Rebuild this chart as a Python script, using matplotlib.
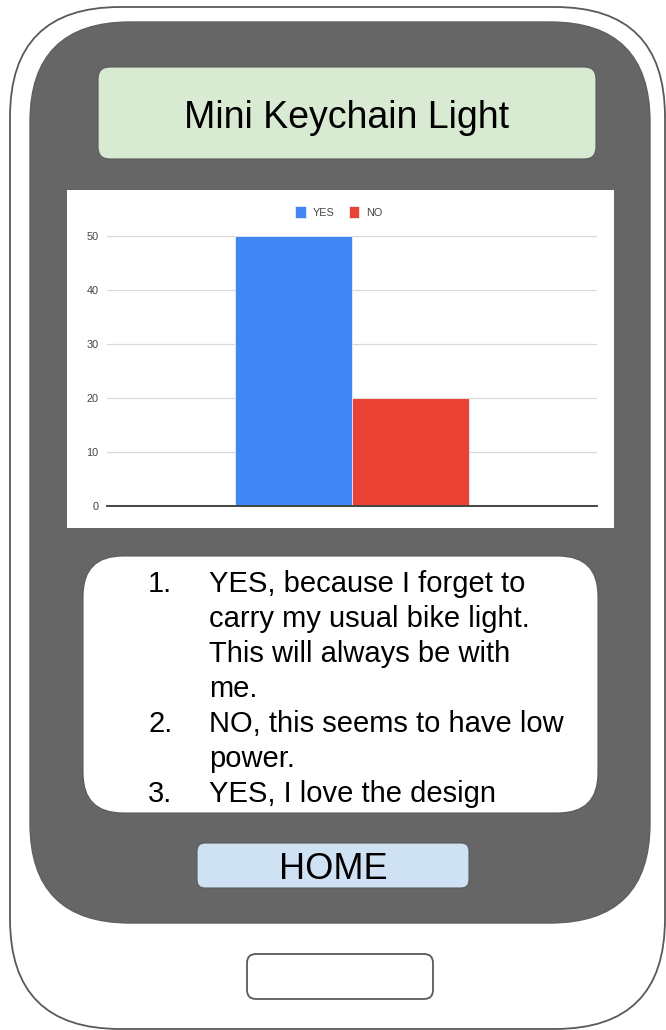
import matplotlib.pyplot as plt
from matplotlib.patches import FancyBboxPatch, Rectangle

plt.rcParams['font.family'] = ['Liberation Sans', 'DejaVu Sans']

# survey results
answers = ['YES', 'NO']
counts = [50, 20]
bar_colors = ['#4285f4', '#ea4335']
y_ticks = [0, 10, 20, 30, 40, 50]

title = 'Mini Keychain Light'
comments = [
    ('1.', ['YES, because I forget to', 'carry my usual bike light.',
            'This will always be with', 'me.']),
    ('2.', ['NO, this seems to have low', 'power.']),
    ('3.', ['YES, I love the design']),
]

W, H = 666, 1030
fig = plt.figure(figsize=(W / 100, H / 100), dpi=100)

# background canvas in pixel units (y grows downward)
bg = fig.add_axes([0, 0, 1, 1])
bg.set_xlim(0, W)
bg.set_ylim(H, 0)
bg.axis('off')


def rbox(x0, y0, x1, y1, r, fc, ec, lw=1.0):
    p = FancyBboxPatch((x0, y0), x1 - x0, y1 - y0,
                       boxstyle=f'round,pad=0,rounding_size={r}',
                       fc=fc, ec=ec, lw=lw)
    bg.add_patch(p)


# phone body and screen
rbox(10, 7, 665, 1029, 110, 'white', '#595959', 1.3)
rbox(30, 22, 650, 923, 100, '#666666', '#5f5f5f', 1.0)

# title bar
rbox(98, 67, 596, 159, 12, '#d9ead3', '#5a5a5a', 0.8)
bg.text(347, 128, title, fontsize=27, ha='center', va='baseline', color='black')

# chart panel
bg.add_patch(Rectangle((67, 190), 547, 338, fc='white', ec='none'))

# comment box
rbox(83, 556, 598, 813, 40, 'white', '#5a5a5a', 0.8)
base_y = 592
step = 35
line = 0
for num, lines in comments:
    bg.text(148, base_y + line * step, num, fontsize=21, ha='left', va='baseline')
    for txt in lines:
        bg.text(209, base_y + line * step, txt, fontsize=21, ha='left', va='baseline')
        line += 1

# home button
rbox(197, 843, 469, 888, 8, '#cfe2f3', '#5a5a5a', 0.8)
bg.text(333, 879, 'HOME', fontsize=26, ha='center', va='baseline')

# physical button
rbox(247, 954, 433, 999, 9, 'white', '#5a5a5a', 1.3)

# bar chart
ax = fig.add_axes([107 / W, 1 - 506 / H, 490 / W, 270 / H])
xs = [-0.5, 0.5]
for x, v, c, lab in zip(xs, counts, bar_colors, answers):
    ax.bar(x, v, width=1.0, color=c, edgecolor='#e8eef8', linewidth=0.6, label=lab, zorder=3)
ax.set_xlim(-2.1, 2.1)
ax.set_ylim(0, 50)
ax.set_yticks(y_ticks)
ax.set_xticks([])
ax.tick_params(axis='y', length=0, pad=6, labelsize=7.8, labelcolor='#444444')
ax.grid(axis='y', color='#d9d9d9', linewidth=0.9, zorder=0)
ax.set_facecolor('none')
for s in ['top', 'right', 'left']:
    ax.spines[s].set_visible(False)
ax.spines['bottom'].set_color('#444444')
ax.spines['bottom'].set_linewidth(1.4)
ax.spines['bottom'].set_zorder(4)
ax.legend(loc='center', bbox_to_anchor=(0.473, 1.089), ncol=2, frameon=False,
          fontsize=7.8, handlelength=1.0, handleheight=1.4, handletextpad=0.6,
          columnspacing=1.3, labelcolor='#444444')

fig.savefig('out.png', dpi=100)
